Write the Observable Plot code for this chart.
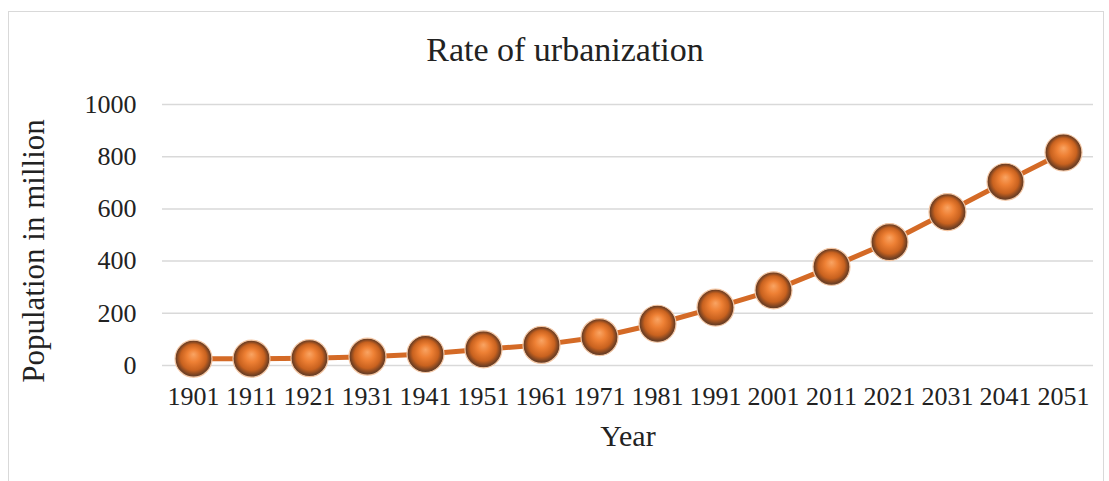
<!DOCTYPE html>
<html>
<head>
<meta charset="utf-8">
<script src="https://cdn.jsdelivr.net/npm/d3@7"></script>
<script src="https://cdn.jsdelivr.net/npm/@observablehq/plot@0.6"></script>
<style>
  html, body { margin: 0; padding: 0; background: #fff; }
  #wrap { position: relative; width: 1109px; height: 481px; overflow: hidden; font-family: "Liberation Serif", serif; }
  #frame { position: absolute; left: 8px; top: 11px; width: 1096px; height: 520px; border: 1px solid #d9d9d9; box-sizing: border-box; }
  #title { position: absolute; left: 0; width: 1130px; top: 33px; text-align: center; font-size: 34px; color: #222; line-height: 1; }
  #chart { position: absolute; left: 0; top: 80px; }
</style>
</head>
<body>
<div id="wrap">
  <div id="frame"></div>
  <div id="title">Rate of urbanization</div>
  <div id="chart"></div>
</div>
<script>
const years = ["1901","1911","1921","1931","1941","1951","1961","1971","1981","1991","2001","2011","2021","2031","2041","2051"];
const population = [26, 26, 28, 34, 44, 62, 79, 109, 160, 222, 288, 378, 473, 588, 704, 816];
const yTicks = [0, 200, 400, 600, 800, 1000];

const data = years.map((y, i) => ({year: y, value: population[i]}));

const chart = Plot.plot({
  width: 1109,
  height: 400,
  marginLeft: 162,
  marginRight: 16,
  marginTop: 24,
  marginBottom: 115,
  style: {fontFamily: "Liberation Serif, serif", fontSize: "26px", color: "#222", background: "transparent"},
  x: {type: "point", domain: years, padding: 0.5},
  y: {domain: [0, 1000]},
  marks: [
    Plot.gridY(yTicks, {stroke: "#d9d9d9", strokeOpacity: 1, strokeWidth: 1.5}),
    Plot.axisY(yTicks, {tickSize: 0, tickPadding: 26, fontSize: 26, tickFormat: d => String(d), label: "Population in million", labelAnchor: "center", labelOffset: 141, labelArrow: "none"}),
    Plot.axisX({tickSize: 0, tickPadding: 21, fontSize: 26, label: "Year", labelAnchor: "center", labelOffset: 80, labelArrow: "none"}),
    Plot.line(data, {x: "year", y: "value", stroke: "#d46a26", strokeWidth: 5}),
    Plot.dot(data, {x: "year", y: "value", r: 18.5, fill: "url(#ball)", stroke: "#f5c7a4", strokeWidth: 1.2})
  ]
});

const svg = d3.select(chart.tagName.toLowerCase() === "svg" ? chart : chart.querySelector("svg"));
svg.selectAll('g[aria-label="x-axis label"] text').attr("font-size", 30).style("font-size", "30px");
svg.selectAll('g[aria-label="y-axis label"] text').attr("font-size", 31).style("font-size", "31px").attr("dx", -16);
const defs = svg.insert("defs", ":first-child");
const g = defs.append("radialGradient").attr("id", "ball").attr("cx", "50%").attr("cy", "50%").attr("r", "50%").attr("fx", "50%").attr("fy", "38%");
g.append("stop").attr("offset", "0%").attr("stop-color", "#f9a463");
g.append("stop").attr("offset", "35%").attr("stop-color", "#ee8034");
g.append("stop").attr("offset", "70%").attr("stop-color", "#c9621f");
g.append("stop").attr("offset", "90%").attr("stop-color", "#7a4322");
g.append("stop").attr("offset", "100%").attr("stop-color", "#5a3b2a");

document.getElementById("chart").appendChild(chart);
</script>
</body>
</html>
